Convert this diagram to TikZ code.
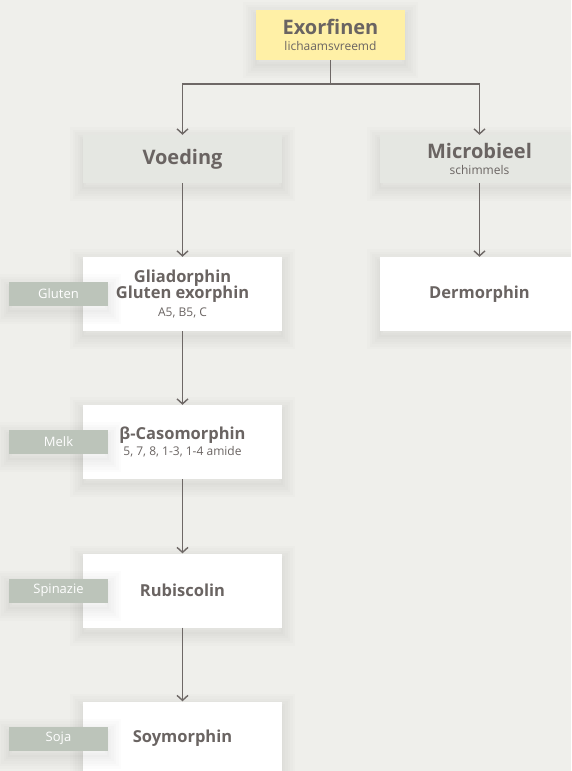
\documentclass[tikz,border=0pt]{standalone}
\usepackage{fontspec}
\setmainfont{Open Sans}
\usetikzlibrary{positioning,arrows.meta}
\definecolor{bg}{HTML}{EFEFEB}
\definecolor{ink}{HTML}{6A6462}
\definecolor{wire}{HTML}{6E6866}
\definecolor{topfill}{HTML}{FFF0A6}
\definecolor{catfill}{HTML}{E5E7E2}
\definecolor{tagfill}{HTML}{BCC4BA}
\newcommand{\hd}[1]{{\fontsize{20}{20}\selectfont\bfseries #1}}
\newcommand{\nm}[1]{{\fontsize{16.5}{17}\selectfont\bfseries #1}}
\newcommand{\sm}[1]{{\fontsize{12}{12}\selectfont #1}}

\begin{document}
\begin{tikzpicture}[node distance=148pt,on grid,
  >={Straight Barb[length=5pt,width=11pt]},
  halo/.style={preaction={draw=black,line width=#1,opacity=0.011,
    transform canvas={yshift=-5pt}}},
  soft/.style={halo=26pt,halo=21pt,halo=16pt,halo=11pt,halo=6pt,halo=2pt},
  topbox/.style={soft,fill=topfill,text=ink,minimum width=149pt,minimum height=50pt,
    align=center,inner sep=2pt,font=\fontsize{10}{16}\selectfont},
  catbox/.style={soft,fill=catfill,text=ink,minimum width=199pt,minimum height=48pt,
    align=center,inner sep=2pt,font=\fontsize{10}{16}\selectfont},
  pepbox/.style={soft,fill=white,text=ink,minimum width=199pt,minimum height=74pt,
    align=center,inner sep=2pt,font=\fontsize{10}{16.5}\selectfont},
  tagbox/.style={soft,fill=tagfill,text=white,minimum width=99pt,minimum height=24pt,
    inner sep=1pt,font=\fontsize{13}{14}\selectfont},
  wire/.style={draw=wire,line width=1.4pt}]

 \fill[bg] (0,0) rectangle (571pt,-771pt);
 \clip (0,0) rectangle (571pt,-771pt);

 \node[topbox] (exo) at (330.5pt,-35pt) {\hd{Exorfinen}\\\sm{lichaamsvreemd}};
 \coordinate[below=49pt of exo] (split);
 \node[catbox] (voed) [below left=124pt and 148pt of exo] {\hd{Voeding}};
 \node[catbox] (micro) [below right=124pt and 149pt of exo] {\hd{Microbieel}\\\sm{schimmels}};

 \node[pepbox] (glia) [below=135pt of voed] {\nm{Gliadorphin}\\\nm{Gluten exorphin}\\[1pt]\sm{A5, B5, C}};
 \node[pepbox] (derm) [below=135pt of micro] {\nm{Dermorphin}};
 \node[pepbox] (caso) [below=of glia] {\nm{β-Casomorphin}\\\sm{5, 7, 8, 1-3, 1-4 amide}};
 \node[pepbox] (rubi) [below=148.5pt of caso] {\nm{Rubiscolin}};
 \node[pepbox] (soy) [below=of rubi] {\nm{Soymorphin}};

 \node[tagbox] (gluten) [left=124pt of glia] {Gluten};
 \node[tagbox] (melk) [left=124pt of caso] {Melk};
 \node[tagbox] (spinazie) [left=124pt of rubi] {Spinazie};
 \node[tagbox] (soja) [left=124pt of soy] {Soja};

 \path[wire] (exo) -- (split);
 \path[wire,->] (split) -| (voed);
 \path[wire,->] (split) -| (micro);
 \path[wire,->] (voed) -- (glia);
 \path[wire,->] (micro) -- (derm);
 \path[wire,->] (glia) -- (caso);
 \path[wire,->] (caso) -- (rubi);
 \path[wire,->] (rubi) -- (soy);
\end{tikzpicture}
\end{document}
